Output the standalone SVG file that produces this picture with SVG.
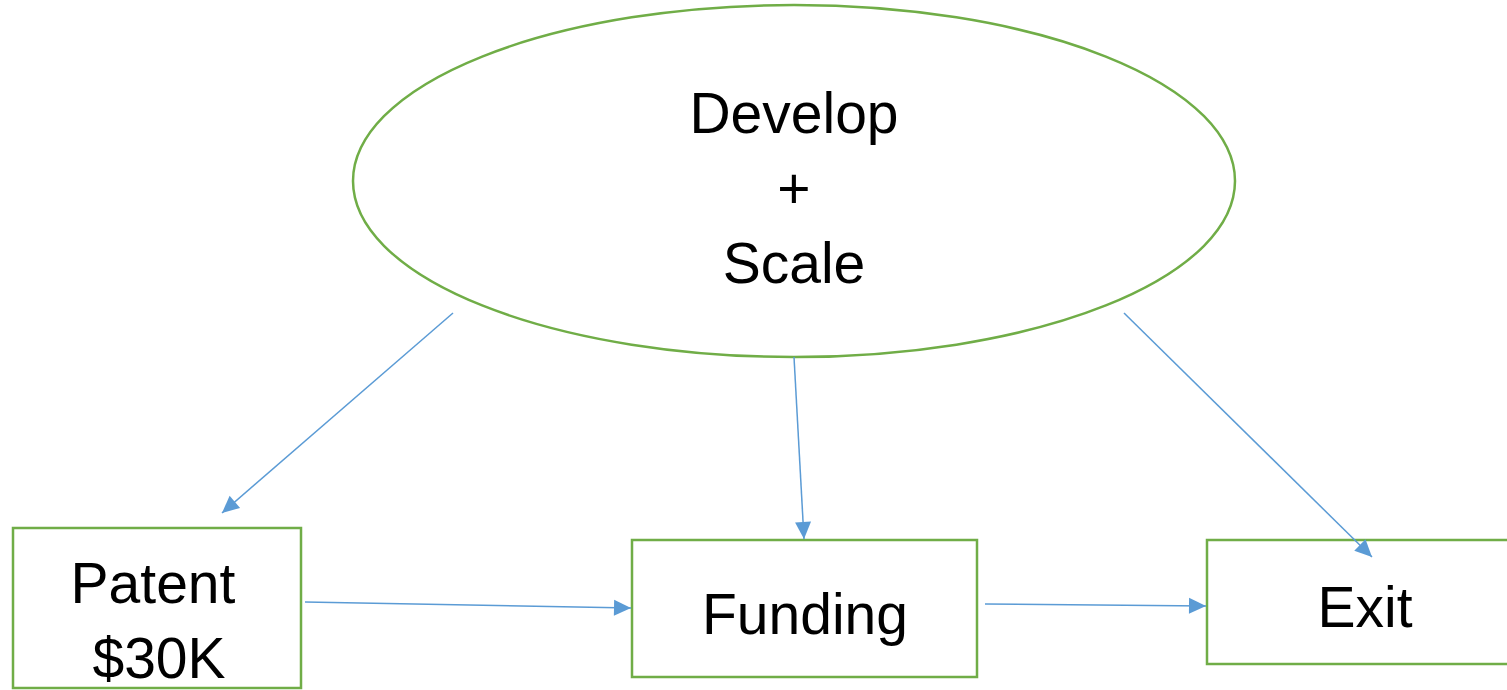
<svg xmlns="http://www.w3.org/2000/svg" width="1507" height="690" viewBox="0 0 1507 690">
<style>
.node{fill:#ffffff;stroke:#70AD47;stroke-width:2.5}
.lbl{font-family:"Liberation Sans",Arial,sans-serif;font-size:57px;fill:#000000;text-anchor:middle}
.edge{stroke:#5B9BD5;stroke-width:1.5;fill:none;marker-end:url(#arr)}
</style>
<defs>
<marker id="arr" markerUnits="userSpaceOnUse" markerWidth="18" markerHeight="17" refX="17" refY="8" orient="auto" overflow="visible">
<path d="M0,0 L17,8 L0,16 z" fill="#5B9BD5"/>
</marker>
</defs>
<rect width="1507" height="690" fill="#ffffff"/>
<g id="develop">
<ellipse class="node" cx="794" cy="181" rx="441" ry="176"/>
<text class="lbl" x="794" y="133">Develop</text>
<text class="lbl" x="794" y="208">+</text>
<text class="lbl" x="794" y="283">Scale</text>
</g>
<g id="patent">
<rect class="node" x="13" y="528" width="288" height="160"/>
<text class="lbl" x="153" y="603">Patent</text>
<text class="lbl" x="159" y="678">$30K</text>
</g>
<g id="funding">
<rect class="node" x="632" y="540" width="345" height="137"/>
<text class="lbl" x="805" y="634">Funding</text>
</g>
<g id="exit">
<rect class="node" x="1207" y="540" width="320" height="124"/>
<text class="lbl" x="1365" y="627">Exit</text>
</g>
<g id="connectors">
<line class="edge" x1="453" y1="313" x2="222" y2="513"/>
<line class="edge" x1="794" y1="357" x2="804" y2="539"/>
<line class="edge" x1="1124" y1="313" x2="1372" y2="557"/>
<line class="edge" x1="305" y1="602" x2="631" y2="608"/>
<line class="edge" x1="985" y1="604" x2="1206" y2="606"/>
</g>
</svg>
